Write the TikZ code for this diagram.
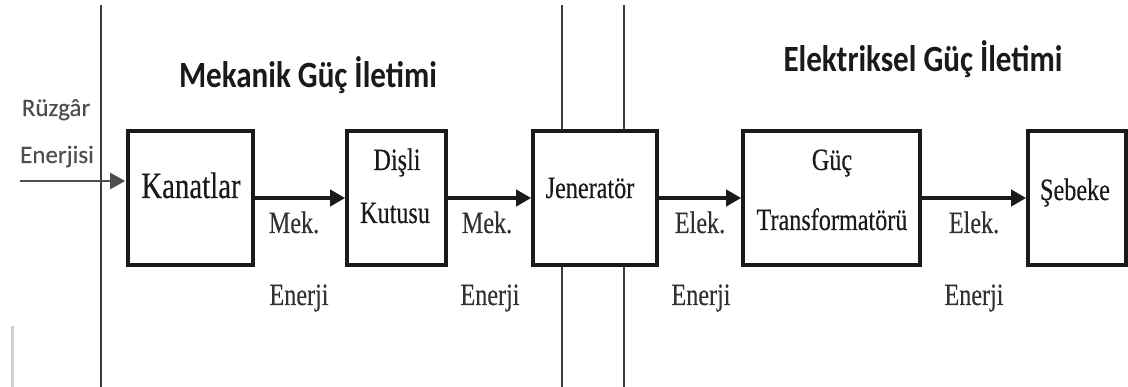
\documentclass[tikz,border=0pt]{standalone}
\usepackage{fontspec}
\setmainfont{Liberation Serif}[FakeStretch=0.78, FakeBold=0.3]
\newfontfamily\headfont{Carlito}[FakeStretch=0.84]
\newfontfamily\notefont{Carlito}[FakeBold=0.2]
\usetikzlibrary{arrows.meta}
\definecolor{ink}{HTML}{1A1A1A}
\definecolor{note}{HTML}{4E4E4E}
\tikzset{
  block/.style={draw=ink, line width=3.6pt, fill=white, inner sep=0pt},
  flow/.style={draw=ink, line width=4.6pt, -{Triangle[length=15pt,width=16pt]}},
  inflow/.style={draw=note, line width=2.2pt, -{Triangle[length=15pt,width=16pt]}, shorten >=1pt},
  divider/.style={draw=ink!85, line width=2.8pt},
  boxtext/.style={text=ink, font=\fontsize{31}{31}\selectfont, anchor=base, inner sep=0pt},
  lbl/.style={text=ink!90, font=\fontsize{31}{31}\selectfont, anchor=base, inner sep=0pt},
  head/.style={text=ink, font=\headfont\bfseries\fontsize{37}{37}\selectfont, anchor=base, inner sep=0pt},
  side/.style={text=note, font=\notefont\fontsize{25}{25}\selectfont, anchor=base, inner sep=0pt}
}
\begin{document}
\begin{tikzpicture}[x=1pt, y=-1pt]
\useasboundingbox[fill=white] (0,0) rectangle (1128,387);

% section dividers
\coordinate (d0t) at (101,5);
\coordinate (d0b) at (101,387);
\coordinate (d1t) at (562,5);
\coordinate (d1b) at (562,387);
\coordinate (d2t) at (624,5);
\coordinate (d2b) at (624,387);
\draw[divider] (d0t) -- (d0b);

% faint mark at the lower left
\coordinate (m0) at (12,326);
\coordinate (m1) at (12,387);
\draw[black!18, line width=3pt] (m0) -- (m1);

% blocks
\node[block, minimum width=125pt, minimum height=134pt] (kan) at (190.5,198) {};
\node[block, minimum width=99pt,  minimum height=134pt] (dis) at (396.5,198) {};
\node[block, minimum width=124pt, minimum height=134pt] (gen) at (595,198) {};
\node[block, minimum width=177pt, minimum height=134pt] (tra) at (831.5,198) {};
\node[block, minimum width=98pt,  minimum height=134pt] (seb) at (1077,198) {};

\draw[divider] (d1t) -- (d1t |- gen.north);
\draw[divider] (d1b) -- (d1b |- gen.south);
\draw[divider] (d2t) -- (d2t |- gen.north);
\draw[divider] (d2b) -- (d2b |- gen.south);

% block texts
\node[boxtext, font=\fontsize{37}{37}\selectfont] (tkan) at (191,198) {Kanatlar};
\node[boxtext] (tdis1) at (397,170) {Dişli};
\node[boxtext] (tdis2) at (395,223) {Kutusu};
\node[boxtext] (tgen) at (590,198) {Jeneratör};
\node[boxtext] (ttra1) at (832,170) {Güç};
\node[boxtext] (ttra2) at (832,230) {Transformatörü};
\node[boxtext] (tseb) at (1075,200) {Şebeke};

% energy flow
\coordinate (wind) at (20,181);
\draw[inflow] (wind) -- (wind -| kan.west);
\draw[flow] (kan.east) -- (dis.west);
\draw[flow] (dis.east) -- (gen.west);
\draw[flow] (gen.east) -- (tra.west);
\draw[flow] (tra.east) -- (seb.west);

% flow labels
\node[lbl] (l1a) at (294,233) {Mek.};
\node[lbl] (l1b) at (299,305) {Enerji};
\node[lbl] (l2a) at (487,233) {Mek.};
\node[lbl] (l2b) at (490,305) {Enerji};
\node[lbl] (l3a) at (700,233) {Elek.};
\node[lbl] (l3b) at (701,305) {Enerji};
\node[lbl] (l4a) at (974,233) {Elek.};
\node[lbl] (l4b) at (974,305) {Enerji};

% input label
\node[side] (in1) at (56,116) {Rüzgâr};
\node[side] (in2) at (57,163) {Enerjisi};

% section headings
\node[head] (h1) at (308,88) {Mekanik Güç İletimi};
\node[head] (h2) at (923,72) {Elektriksel Güç İletimi};
\end{tikzpicture}
\end{document}
